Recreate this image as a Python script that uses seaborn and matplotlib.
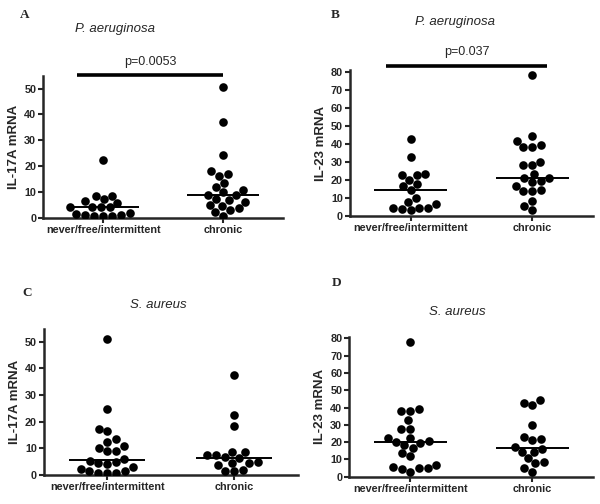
"""
IL-17A / IL-23 mRNA by infection status (P. aeruginosa, S. aureus).
Four dot plots with median lines, seaborn swarmplot.
"""

import numpy as np
import pandas as pd
import matplotlib
matplotlib.use("Agg")
import matplotlib.pyplot as plt
import seaborn as sns

# -----------------------------
# Data
# -----------------------------

GROUPS = ["never/free/intermittent", "chronic"]

# A: P. aeruginosa, IL-17A
A_NEVER = [22.5, 8.5, 8.7, 6.5, 6.0, 7.3, 4.2, 4.2, 4.2, 4.2,
           2.0, 1.2, 1.0, 1.0, 1.0, 1.2, 1.8]
A_CHRONIC = [50.5, 37.1, 24.2, 18.1, 17.2, 16.4, 13.6, 12.1, 10.8, 10.2,
             8.9, 8.9, 7.3, 7.0, 6.3, 5.0, 4.8, 3.8, 3.2, 2.4, 0.9]

# B: P. aeruginosa, IL-23
B_NEVER = [43.0, 32.9, 22.7, 22.7, 23.6, 20.0, 16.6, 17.7, 14.4, 10.3,
           7.9, 7.0, 4.8, 4.8, 3.3, 4.2, 4.8]
B_CHRONIC = [78.0, 44.4, 41.8, 38.1, 38.1, 39.2, 30.1, 28.3, 28.3, 21.4,
             23.3, 21.3, 19.6, 18.7, 16.8, 13.9, 13.9, 14.6, 8.7, 5.9, 3.3]

# C: S. aureus, IL-17A
C_NEVER = [51.0, 24.6, 17.4, 16.4, 13.5, 12.3, 10.7, 10.1, 8.8, 8.8,
           5.9, 5.3, 4.8, 4.4, 3.9, 2.9, 2.2, 1.6, 1.3, 0.8, 0.6, 0.6]
C_CHRONIC = [37.5, 22.4, 18.3, 8.6, 8.6, 7.3, 7.3, 6.5, 6.3, 4.8,
             4.4, 4.4, 3.5, 1.9, 1.3, 1.3]

# D: S. aureus, IL-23
D_NEVER = [77.7, 39.0, 37.8, 37.8, 32.6, 27.8, 27.8, 22.5, 22.5, 20.7,
           20.2, 19.8, 18.6, 16.9, 13.8, 12.1, 5.8, 4.8, 2.9, 4.4, 4.8, 6.7]
D_CHRONIC = [44.2, 42.8, 41.7, 30.1, 23.0, 22.1, 21.2, 17.3, 16.3, 14.4,
             14.4, 10.6, 8.3, 7.7, 4.8, 3.0]

Y_LABELS = ["IL-17A mRNA", "IL-23 mRNA", "IL-17A mRNA", "IL-23 mRNA"]
ORGANISMS = ["P. aeruginosa", "P. aeruginosa", "S. aureus", "S. aureus"]
PANEL_LETTERS = ["A", "B", "C", "D"]
P_VALUES = ["p=0.0053", "p=0.037", None, None]

# -----------------------------
# Style
# -----------------------------

sns.set_theme(style="ticks")
plt.rcParams["font.family"] = ["Liberation Sans", "DejaVu Sans"]
plt.rcParams["axes.linewidth"] = 1.8


def make_frame(never, chronic):
    return pd.DataFrame({
        "group": [GROUPS[0]] * len(never) + [GROUPS[1]] * len(chronic),
        "value": list(never) + list(chronic),
    })


def draw_panel(ax, never, chronic, ylabel, ymax, yticks):
    df = make_frame(never, chronic)
    sns.swarmplot(data=df, x="group", y="value", order=GROUPS, ax=ax,
                  color="black", size=6.2, linewidth=0, warn_thresh=1)
    for i, vals in enumerate([never, chronic]):
        ax.hlines(np.median(vals), i - 0.3, i + 0.3, color="black", linewidth=1.4)
    ax.set_xlim(-0.5, 1.5)
    ax.set_ylim(0, ymax)
    ax.set_yticks(yticks)
    ax.set_xlabel("")
    ax.set_ylabel(ylabel, fontsize=9.5, fontweight="bold", labelpad=3)
    ax.tick_params(axis="both", labelsize=7.8, length=3.5, width=1.5, pad=1.5)
    for lab in ax.get_xticklabels() + ax.get_yticklabels():
        lab.set_fontweight("bold")
    sns.despine(ax=ax)


fig = plt.figure(figsize=(6.0, 5.04), dpi=100)

# axes rectangles in figure fractions [left, bottom, width, height]
rects = [
    [0.072, 0.567, 0.400, 0.283],
    [0.583, 0.571, 0.405, 0.290],
    [0.073, 0.058, 0.423, 0.290],
    [0.582, 0.054, 0.407, 0.278],
]
data = [(A_NEVER, A_CHRONIC), (B_NEVER, B_CHRONIC),
        (C_NEVER, C_CHRONIC), (D_NEVER, D_CHRONIC)]
ymaxes = [55, 81, 55, 81]
ytick_sets = [range(0, 51, 10), range(0, 81, 10), range(0, 51, 10), range(0, 81, 10)]

axes = []
for rect, (nv, ch), ylab, ymax, yt in zip(rects, data, Y_LABELS, ymaxes, ytick_sets):
    ax = fig.add_axes(rect)
    draw_panel(ax, nv, ch, ylab, ymax, list(yt))
    axes.append(ax)

# significance bars (panels A and B)
sig_spans = [(-0.22, 1.0, 55.3, 58.0), (-0.2, 1.12, 83.0, 87.5)]
for ax, pv, (x0, x1, ybar, ytxt) in zip(axes[:2], P_VALUES[:2], sig_spans):
    ax.plot([x0, x1], [ybar, ybar], color="black", linewidth=2.6,
            clip_on=False, solid_capstyle="butt")
    ax.text((x0 + x1) / 2, ytxt, pv, ha="center", va="bottom", fontsize=9)

# organism titles and panel letters (pixel positions from top-left)
title_pos = [(115, 29), (455, 22), (158, 305), (457, 312)]
letter_pos = [(25, 15), (335, 15), (27, 293), (337, 283)]
for org, (tx, ty), letter, (lx, ly) in zip(ORGANISMS, title_pos, PANEL_LETTERS, letter_pos):
    fig.text(tx / 600, 1 - ty / 504, org, ha="center", va="center",
             fontsize=9.5, style="italic")
    fig.text(lx / 600, 1 - ly / 504, letter, ha="center", va="center",
             fontsize=9.5, fontweight="bold", family="Liberation Serif")

fig.savefig("out.png", dpi=100)
